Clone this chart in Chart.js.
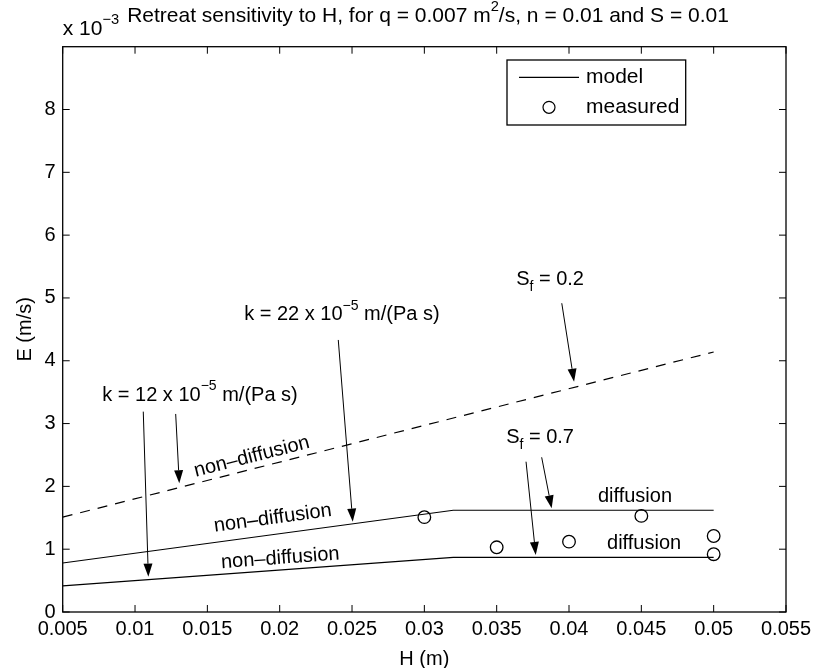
<!DOCTYPE html>
<html><head><meta charset="utf-8">
<script src="https://cdn.jsdelivr.net/npm/chart.js@4/dist/chart.umd.min.js"></script>
<style>html,body{margin:0;padding:0;background:#fff;}canvas{display:block;}</style>
</head><body>
<canvas id="c" width="813" height="668"></canvas>
<script>
// ---- data (E in units of 1e-3 m/s) ----
const xTicks = [0.005, 0.01, 0.015, 0.02, 0.025, 0.03, 0.035, 0.04, 0.045, 0.05, 0.055];
const yTicks = [0, 1, 2, 3, 4, 5, 6, 7, 8];
const H_model = [0.005, 0.032, 0.05];
const E_k22 = [0.78, 1.62, 1.62];
const E_k12 = [0.415, 0.87, 0.87];
const H_sf02 = [0.005, 0.05];
const E_sf02 = [1.51, 4.14];
const H_meas = [0.03, 0.035, 0.04, 0.045, 0.05, 0.05];
const E_meas = [1.51, 1.03, 1.12, 1.53, 1.21, 0.92];

const FONT = '"Liberation Sans", Arial, Helvetica, sans-serif';
const FS = 20;     // ticks, annotations, axis titles
const FS_T = 21;   // title, legend, exponent

// annotation texts (positions in data units)
const labels = [
  {segs:[{t:'k = 22 x 10'},{t:'\u22125',sup:1},{t:' m/(Pa s)'}], h:0.0243, e:4.73, rot:0},
  {segs:[{t:'k = 12 x 10'},{t:'\u22125',sup:1},{t:' m/(Pa s)'}], h:0.01449, e:3.455, rot:0},
  {segs:[{t:'S'},{t:'f',sub:1},{t:' = 0.2'}], h:0.03869, e:5.287, rot:0},
  {segs:[{t:'S'},{t:'f',sub:1},{t:' = 0.7'}], h:0.0380, e:2.771, rot:0},
  {segs:[{t:'diffusion'}], h:0.04456, e:1.836, rot:0},
  {segs:[{t:'diffusion'}], h:0.04519, e:1.083, rot:0},
  {segs:[{t:'non\u2013diffusion'}], h:0.01807, e:2.47, rot:-14.3},
  {segs:[{t:'non\u2013diffusion'}], h:0.01952, e:1.492, rot:-7.7},
  {segs:[{t:'non\u2013diffusion'}], h:0.02004, e:0.855, rot:-4.2}
];
const arrows = [
  [0.01057, 3.19, 0.01092, 0.562],
  [0.01281, 3.153, 0.01306, 2.049],
  [0.02405, 4.331, 0.02505, 1.438],
  [0.03950, 4.916, 0.04035, 3.667],
  [0.03703, 2.393, 0.0377, 0.908],
  [0.03811, 2.463, 0.0388, 1.651]
];

function fnt(sz){ return sz + 'px ' + FONT; }
function drawRich(ctx, segs, x, y, size, align, angle){
  ctx.save();
  ctx.translate(x, y);
  if (angle) ctx.rotate(angle * Math.PI / 180);
  const ws = []; let total = 0;
  segs.forEach(s => { ctx.font = fnt((s.sup||s.sub) ? size*0.7 : size); const w = ctx.measureText(s.t).width; ws.push(w); total += w; });
  let cx = align === 'center' ? -total/2 : (align === 'right' ? -total : 0);
  ctx.textAlign = 'left'; ctx.textBaseline = 'middle'; ctx.fillStyle = '#000';
  segs.forEach((s, i) => {
    ctx.font = fnt((s.sup||s.sub) ? size*0.7 : size);
    const dy = s.sup ? -size*0.42 : (s.sub ? size*0.38 : 0);
    ctx.fillText(s.t, cx, dy);
    cx += ws[i];
  });
  ctx.restore();
}
function seg(ctx,x1,y1,x2,y2){ctx.beginPath();ctx.moveTo(x1,y1);ctx.lineTo(x2,y2);ctx.stroke();}

const deco = {
  id: 'deco',
  afterDatasetsDraw(chart){
    const {ctx, scales:{x, y}} = chart;
    ctx.save();
    labels.forEach(l => drawRich(ctx, l.segs, x.getPixelForValue(l.h), y.getPixelForValue(l.e), FS, 'center', l.rot));
    ctx.strokeStyle = '#000'; ctx.fillStyle = '#000'; ctx.lineWidth = 1;
    arrows.forEach(ar => {
      const x0 = x.getPixelForValue(ar[0]), y0 = y.getPixelForValue(ar[1]);
      const x1 = x.getPixelForValue(ar[2]), y1 = y.getPixelForValue(ar[3]);
      const ang = Math.atan2(y1 - y0, x1 - x0);
      const L = 13, W = 4.5;
      const bx = x1 - L*Math.cos(ang), by = y1 - L*Math.sin(ang);
      seg(ctx, x0, y0, bx, by);
      ctx.beginPath();
      ctx.moveTo(x1, y1);
      ctx.lineTo(bx + W*Math.sin(ang), by - W*Math.cos(ang));
      ctx.lineTo(bx - W*Math.sin(ang), by + W*Math.cos(ang));
      ctx.closePath(); ctx.fill();
    });
    ctx.restore();
  },
  afterDraw(chart){
    const {ctx, chartArea:a, scales:{x, y}} = chart;
    ctx.save();
    ctx.strokeStyle = '#000';
    ctx.lineWidth = 1.3;
    ctx.strokeRect(a.left, a.top, a.right - a.left, a.bottom - a.top);
    ctx.lineWidth = 1;
    xTicks.forEach(v => { const p = x.getPixelForValue(v); seg(ctx,p,a.bottom,p,a.bottom-7); seg(ctx,p,a.top,p,a.top+7); });
    yTicks.forEach(v => { const p = y.getPixelForValue(v); seg(ctx,a.left,p,a.left+7,p); seg(ctx,a.right,p,a.right-7,p); });
    // exponent label and title
    drawRich(ctx, [{t:'x 10'},{t:'\u22123',sup:1}], a.left, 29, FS_T, 'left', 0);
    drawRich(ctx, [{t:'Retreat sensitivity to H, for q = 0.007 m'},{t:'2',sup:1},{t:'/s, n = 0.01 and S = 0.01'}], 428, 16, FS_T, 'center', 0);
    // legend
    const lx = a.left + 444.3, ly = a.top + 13.3, lw = 178.7, lh = 65;
    ctx.fillStyle = '#fff'; ctx.fillRect(lx, ly, lw, lh);
    ctx.lineWidth = 1.3; ctx.strokeRect(lx, ly, lw, lh);
    ctx.lineWidth = 1.2; seg(ctx, lx+12, ly+17.3, lx+72, ly+17.3);
    ctx.beginPath(); ctx.arc(lx+42, ly+47.3, 6, 0, Math.PI*2); ctx.stroke();
    ctx.fillStyle = '#000'; ctx.font = fnt(FS_T); ctx.textBaseline = 'middle'; ctx.textAlign = 'left';
    ctx.fillText('model', lx+79, ly+17);
    ctx.fillText('measured', lx+79, ly+47);
    ctx.restore();
  }
};

const xy = (xs, ys) => xs.map((v, i) => ({x: v, y: ys[i]}));

new Chart(document.getElementById('c'), {
  type: 'scatter',
  data: {
    datasets: [
      {label:'model', data: xy(H_model, E_k22), showLine:true, borderColor:'#000', borderWidth:1.2, pointRadius:0, fill:false},
      {label:'model k12', data: xy(H_model, E_k12), showLine:true, borderColor:'#000', borderWidth:1.2, pointRadius:0, fill:false},
      {label:'Sf 0.2', data: xy(H_sf02, E_sf02), showLine:true, borderColor:'#000', borderWidth:1.2, borderDash:[10,8], pointRadius:0, fill:false},
      {label:'measured', data: xy(H_meas, E_meas), showLine:false, pointStyle:'circle', pointRadius:6.3, pointBorderWidth:1.3, pointBorderColor:'#000', pointBackgroundColor:'rgba(0,0,0,0)'}
    ]
  },
  options: {
    responsive: false, animation: false,
    layout: {padding: {left: 0, top: 46.7, right: 27, bottom: 0}},
    plugins: {legend: {display: false}, tooltip: {enabled: false}, title: {display: false}},
    scales: {
      x: {
        type: 'linear', min: 0.005, max: 0.055,
        grid: {display: false, drawTicks: false}, border: {display: false},
        afterBuildTicks: s => { s.ticks = xTicks.map(v => ({value: v})); },
        afterFit: s => { s.height = 56; s.paddingLeft = 0; s.paddingRight = 0; },
        ticks: {color: '#000', font: {family: FONT, size: FS}, padding: 5, maxRotation: 0, autoSkip: false, callback: v => String(+v.toFixed(3))},
        title: {display: true, text: 'H (m)', color: '#000', font: {family: FONT, size: FS}, padding: {top: 0, bottom: -3}}
      },
      y: {
        type: 'linear', min: 0, max: 9,
        grid: {display: false, drawTicks: false}, border: {display: false},
        afterBuildTicks: s => { s.ticks = yTicks.map(v => ({value: v})); },
        afterFit: s => { s.width = 62.7; s.paddingTop = 0; s.paddingBottom = 0; },
        ticks: {color: '#000', font: {family: FONT, size: FS}, padding: 7, autoSkip: false, callback: v => String(v)},
        title: {display: true, text: 'E (m/s)', color: '#000', font: {family: FONT, size: FS}, padding: {top: 13, bottom: 0}}
      }
    }
  },
  plugins: [deco]
});
</script>
</body></html>
